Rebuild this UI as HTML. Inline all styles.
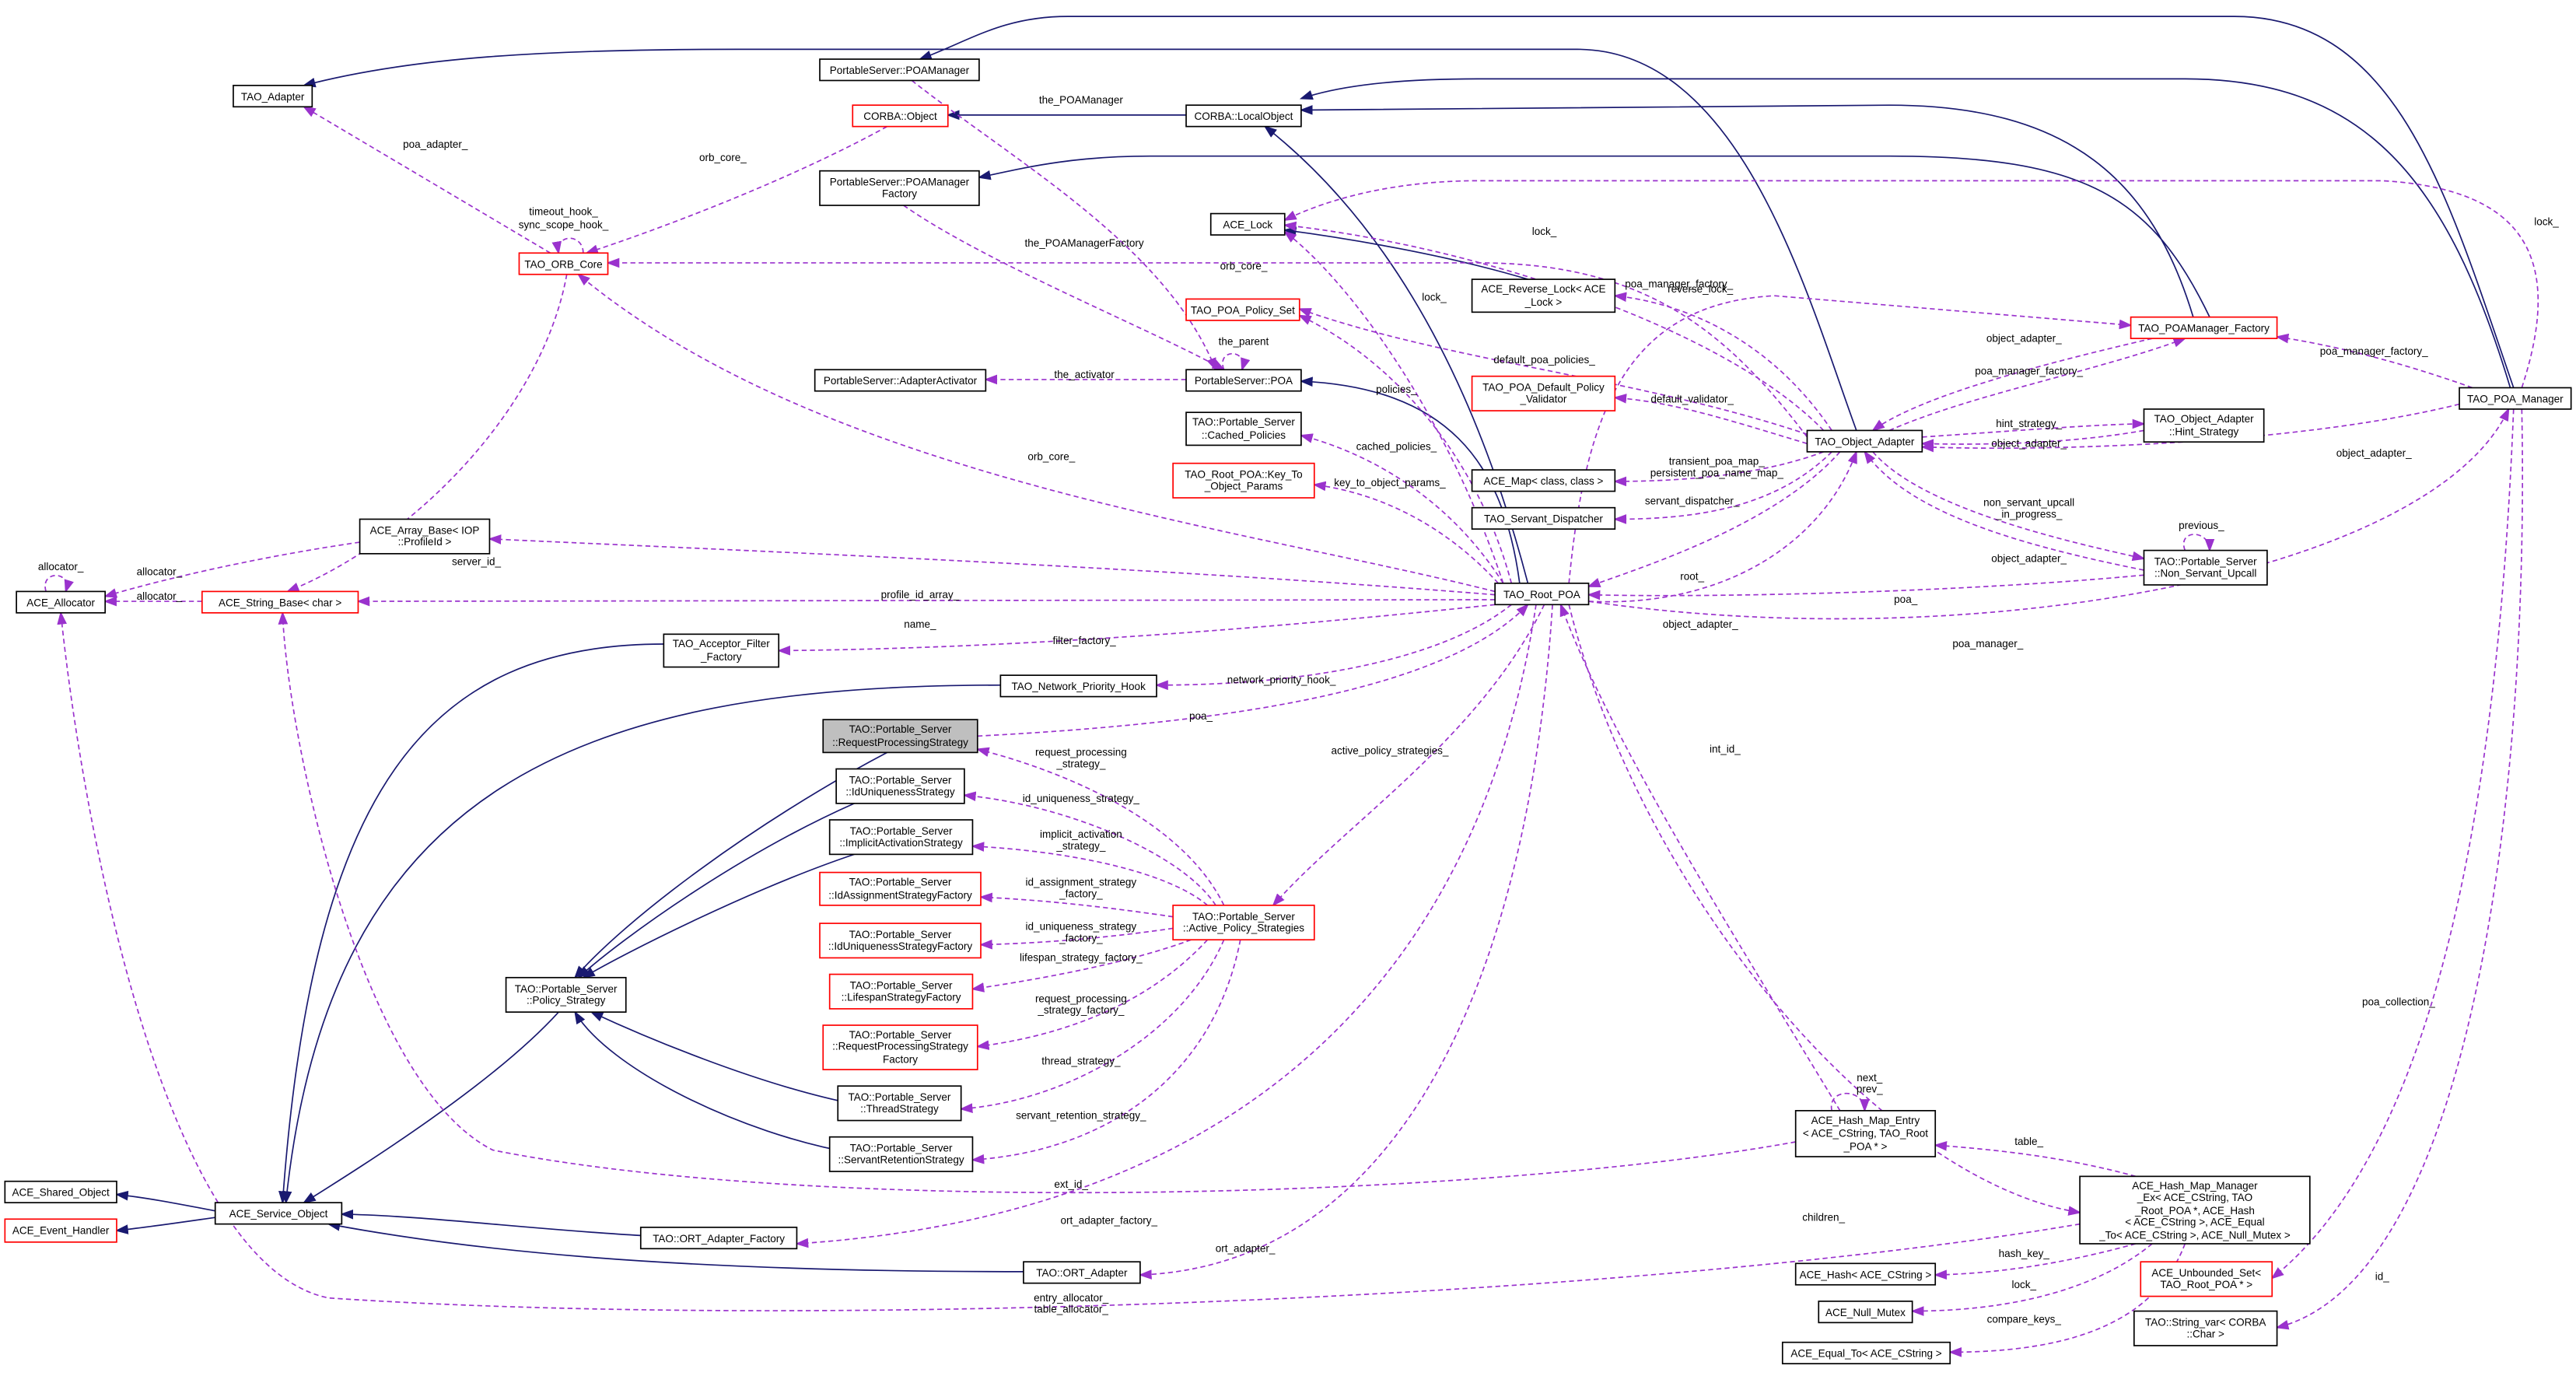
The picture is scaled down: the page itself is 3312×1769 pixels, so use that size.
<!DOCTYPE html>
<html><head><meta charset="utf-8"><style>
html,body{margin:0;padding:0;background:#fff;}
svg{display:block;}
text{font-family:"Liberation Sans Narrow","Liberation Sans",sans-serif;font-size:6.4px;fill:#000;text-anchor:middle;}
.b{fill:#fff;stroke:#000;stroke-width:0.8;}
.r{fill:#fff;stroke:#f00;stroke-width:0.8;}
.g{fill:#bfbfbf;stroke:#000;stroke-width:0.8;}
.s{fill:none;stroke:#191970;stroke-width:0.8;marker-end:url(#mn);}
.d{fill:none;stroke:#9a32cd;stroke-width:0.8;stroke-dasharray:3,2;marker-end:url(#mp);}
</style></head><body>
<svg width="3312" height="1769" viewBox="0 0 1568 837.5" preserveAspectRatio="none" xmlns="http://www.w3.org/2000/svg">
<defs>
<marker id="mn" markerWidth="8" markerHeight="6" refX="7" refY="3" orient="auto" markerUnits="userSpaceOnUse"><path d="M0,0 L8,3 L0,6 z" fill="#191970"/></marker>
<marker id="mp" markerWidth="8" markerHeight="6" refX="7" refY="3" orient="auto" markerUnits="userSpaceOnUse"><path d="M0,0 L8,3 L0,6 z" fill="#9a32cd"/></marker>
</defs>
<rect width="1568" height="837.5" fill="#fff"/>
<!-- solid edges -->
<path class="s" d="M1130,262 C1100,180 1060,30 960,30 L450,30 C330,30 250,35 185,52"/>
<path class="s" d="M1530,236 C1490,120 1460,10 1360,10 L650,10 C610,10 590,25 560,36"/>
<path class="s" d="M722,70 L577,70"/>
<path class="s" d="M1528,236 C1490,110 1440,48 1330,48 L900,48 C840,48 810,54 792,60"/>
<path class="s" d="M1335,193 C1310,110 1260,64 1150,64 L792,67"/>
<path class="s" d="M930,355 C900,240 850,140 770,77"/>
<path class="s" d="M1345,193 C1310,120 1270,95 1150,95 L700,95 C650,95 620,103 596,108"/>
<path class="s" d="M925,355 C915,280 880,236 792,232"/>
<path class="s" d="M930,170 C880,155 820,145 782,140"/>
<path class="s" d="M404,392 C260,392 190,480 172,732"/>
<path class="s" d="M609,417 C350,417 200,480 174,732"/>
<path class="s" d="M340,616 C300,660 220,710 185,732"/>
<path class="s" d="M390,752 C320,748 260,740 208,739"/>
<path class="s" d="M623,774 C400,774 280,760 200,745"/>
<path class="s" d="M131,737 C110,733 90,729 71,727"/>
<path class="s" d="M131,741 C110,744 90,747 71,749"/>
<path class="s" d="M540,458 C460,500 380,560 350,595"/>
<path class="s" d="M520,489 C450,520 380,570 352,595"/>
<path class="s" d="M520,520 C460,540 380,580 355,595"/>
<path class="s" d="M520,672 C460,660 390,630 360,616"/>
<path class="s" d="M520,702 C450,690 370,650 350,616"/>
<!-- dashed edges -->
<path class="d" d="M335,154 L185,65"/>
<path class="d" d="M540,77 C480,110 400,140 357,154"/>
<path class="d" d="M355,154 C355,142 338,142 340,154"/>
<path class="d" d="M1100,266 C1050,200 1000,160 900,160 L370,160"/>
<path class="d" d="M910,360 C750,320 500,290 352,167"/>
<path class="d" d="M345,167 C330,250 250,330 175,360"/>
<path class="d" d="M555,49 C620,100 710,150 740,225"/>
<path class="d" d="M550,125 C600,160 700,200 745,225"/>
<path class="d" d="M745,225 C740,212 760,212 756,225"/>
<path class="d" d="M722,231 L600,231"/>
<path class="d" d="M915,355 C880,250 820,170 782,141"/>
<path class="d" d="M1110,262 C1050,200 900,150 782,137"/>
<path class="d" d="M1535,236 C1560,160 1540,115 1450,110 L900,110 C840,110 800,125 782,134"/>
<path class="d" d="M1115,262 C1080,210 1030,185 983,180"/>
<path class="d" d="M955,355 C965,250 990,185 1080,180 L1297,198"/>
<path class="d" d="M1310,206 C1250,220 1170,240 1140,262"/>
<path class="d" d="M1150,262 C1200,240 1280,225 1330,206"/>
<path class="d" d="M1505,236 C1460,220 1420,210 1386,205"/>
<path class="d" d="M920,355 C900,280 850,220 791,192"/>
<path class="d" d="M1105,266 C1000,230 880,220 791,188"/>
<path class="d" d="M1100,270 C1050,255 1020,245 983,242"/>
<path class="d" d="M915,355 C880,300 830,275 792,265"/>
<path class="d" d="M912,355 C880,320 840,300 800,295"/>
<path class="d" d="M1110,275 C1070,290 1020,293 983,293"/>
<path class="d" d="M1115,275 C1080,310 1030,316 983,316"/>
<path class="d" d="M1170,266 C1230,262 1280,258 1305,258"/>
<path class="d" d="M1305,262 C1260,270 1210,271 1170,270"/>
<path class="d" d="M1497,246 C1400,270 1250,275 1170,272"/>
<path class="d" d="M1140,275 C1170,310 1260,330 1305,340"/>
<path class="d" d="M1305,347 C1220,330 1160,310 1135,275"/>
<path class="d" d="M1330,335 C1325,322 1345,322 1345,335"/>
<path class="d" d="M1120,275 C1080,320 1000,345 967,357"/>
<path class="d" d="M967,366 C1050,370 1110,330 1130,275"/>
<path class="d" d="M1305,350 C1200,360 1050,364 967,362"/>
<path class="d" d="M967,366 C1200,400 1480,350 1527,249"/>
<path class="d" d="M910,362 C700,345 450,335 298,328"/>
<path class="d" d="M910,365 L218,366"/>
<path class="d" d="M219,330 C150,340 90,355 64,363"/>
<path class="d" d="M123,366 L64,366"/>
<path class="d" d="M28,360 C24,347 44,347 40,360"/>
<path class="d" d="M910,368 C750,385 600,395 474,396"/>
<path class="d" d="M920,368 C880,400 800,417 704,417"/>
<path class="d" d="M595,448 C750,440 880,420 930,368"/>
<path class="d" d="M940,368 C900,450 820,500 775,551"/>
<path class="d" d="M745,551 C720,500 650,470 595,456"/>
<path class="d" d="M740,551 C720,520 650,490 587,484"/>
<path class="d" d="M735,551 C710,530 650,518 592,515"/>
<path class="d" d="M714,558 C680,553 640,548 597,546"/>
<path class="d" d="M714,565 C680,570 640,574 597,575"/>
<path class="d" d="M725,572 C690,585 640,595 592,602"/>
<path class="d" d="M735,572 C700,610 650,630 595,637"/>
<path class="d" d="M745,572 C720,630 650,670 585,675"/>
<path class="d" d="M755,572 C740,650 680,700 592,706"/>
<path class="d" d="M935,368 C900,600 750,740 485,757"/>
<path class="d" d="M945,368 C930,600 850,770 694,776"/>
<path class="d" d="M1120,676 C1050,560 980,450 950,368"/>
<path class="d" d="M1115,676 C1112,662 1135,662 1135,676"/>
<path class="d" d="M1093,695 C900,730 500,740 300,700 C220,660 175,450 172,373"/>
<path class="d" d="M955,368 C1000,550 1150,720 1266,738"/>
<path class="d" d="M1300,716 C1260,705 1220,700 1178,697"/>
<path class="d" d="M1266,745 C1000,790 500,810 200,790 C100,770 50,500 37,373"/>
<path class="d" d="M1300,757 C1260,768 1220,775 1178,776"/>
<path class="d" d="M1310,757 C1270,790 1210,798 1164,798"/>
<path class="d" d="M1330,757 C1310,810 1250,823 1187,823"/>
<path class="d" d="M1530,249 C1520,500 1480,700 1383,778"/>
<path class="d" d="M1535,249 C1540,500 1500,780 1386,808"/>
<!-- edge labels -->
<text x="265" y="90">poa_adapter_</text>
<text x="440" y="98">orb_core_</text>
<text x="343" y="131">timeout_hook_</text><text x="343" y="139">sync_scope_hook_</text>
<text x="757" y="164">orb_core_</text>
<text x="640" y="280">orb_core_</text>
<text x="290" y="344">server_id_</text>
<text x="658" y="63">the_POAManager</text>
<text x="660" y="150">the_POAManagerFactory</text>
<text x="757" y="210">the_parent</text>
<text x="660" y="230">the_activator</text>
<text x="873" y="183">lock_</text>
<text x="940" y="143">lock_</text>
<text x="1550" y="137">lock_</text>
<text x="1035" y="178">reverse_lock_</text>
<text x="1022" y="175">poa_manager_factory_</text>
<text x="1232" y="208">object_adapter_</text>
<text x="1235" y="228">poa_manager_factory_</text>
<text x="1445" y="216">poa_manager_factory_</text>
<text x="850" y="239">policies_</text>
<text x="940" y="221">default_poa_policies_</text>
<text x="1030" y="245">default_validator_</text>
<text x="850" y="274">cached_policies_</text>
<text x="846" y="296">key_to_object_params_</text>
<text x="1045" y="283">transient_poa_map_</text><text x="1045" y="290">persistent_poa_name_map_</text>
<text x="1030" y="307">servant_dispatcher_</text>
<text x="1235" y="260">hint_strategy_</text>
<text x="1235" y="272">object_adapter_</text>
<text x="1445" y="278">object_adapter_</text>
<text x="1235" y="308">non_servant_upcall</text><text x="1235" y="315">_in_progress_</text>
<text x="1235" y="342">object_adapter_</text>
<text x="1340" y="322">previous_</text>
<text x="1030" y="353">root_</text>
<text x="1035" y="382">object_adapter_</text>
<text x="1160" y="367">poa_</text>
<text x="1210" y="394">poa_manager_</text>
<text x="560" y="364">profile_id_array_</text>
<text x="560" y="382">name_</text>
<text x="97" y="350">allocator_</text>
<text x="97" y="365">allocator_</text>
<text x="37" y="347">allocator_</text>
<text x="660" y="392">filter_factory_</text>
<text x="780" y="416">network_priority_hook_</text>
<text x="731" y="438">poa_</text>
<text x="846" y="459">active_policy_strategies_</text>
<text x="658" y="460">request_processing</text><text x="658" y="467">_strategy_</text>
<text x="658" y="488">id_uniqueness_strategy_</text>
<text x="658" y="510">implicit_activation</text><text x="658" y="517">_strategy_</text>
<text x="658" y="539">id_assignment_strategy</text><text x="658" y="546">_factory_</text>
<text x="658" y="566">id_uniqueness_strategy</text><text x="658" y="573">_factory_</text>
<text x="658" y="585">lifespan_strategy_factory_</text>
<text x="658" y="610">request_processing</text><text x="658" y="617">_strategy_factory_</text>
<text x="658" y="648">thread_strategy_</text>
<text x="658" y="681">servant_retention_strategy_</text>
<text x="675" y="745">ort_adapter_factory_</text>
<text x="758" y="762">ort_adapter_</text>
<text x="1050" y="458">int_id_</text>
<text x="1138" y="658">next_</text><text x="1138" y="665">prev_</text>
<text x="652" y="723">ext_id_</text>
<text x="1110" y="743">children_</text>
<text x="1235" y="697">table_</text>
<text x="652" y="792">entry_allocator_</text><text x="652" y="799">table_allocator_</text>
<text x="1232" y="765">hash_key_</text>
<text x="1232" y="784">lock_</text>
<text x="1232" y="805">compare_keys_</text>
<text x="1460" y="612">poa_collection_</text>
<text x="1450" y="779">id_</text>
<!-- nodes -->
<rect class="b" x="142" y="52" width="48" height="13"/><text x="166" y="61">TAO_Adapter</text>
<rect class="b" x="499" y="36" width="97" height="13"/><text x="547.5" y="45">PortableServer::POAManager</text>
<rect class="r" x="519" y="64" width="58" height="13"/><text x="548" y="73">CORBA::Object</text>
<rect class="b" x="722" y="64" width="70" height="13"/><text x="757" y="73">CORBA::LocalObject</text>
<rect class="b" x="499" y="104" width="97" height="21"/><text x="547.5" y="113">PortableServer::POAManager</text><text x="547.5" y="120">Factory</text>
<rect class="b" x="737" y="130" width="45" height="13"/><text x="759.5" y="139">ACE_Lock</text>
<rect class="r" x="316" y="154" width="54" height="13"/><text x="343" y="163">TAO_ORB_Core</text>
<rect class="r" x="722" y="182" width="69" height="13"/><text x="756.5" y="191">TAO_POA_Policy_Set</text>
<rect class="b" x="896" y="170" width="87" height="20"/><text x="939.5" y="178">ACE_Reverse_Lock&lt; ACE</text><text x="939.5" y="186">_Lock &gt;</text>
<rect class="r" x="1297" y="193" width="89" height="13"/><text x="1341.5" y="202">TAO_POAManager_Factory</text>
<rect class="b" x="496" y="225" width="104" height="13"/><text x="548" y="234">PortableServer::AdapterActivator</text>
<rect class="b" x="722" y="225" width="70" height="13"/><text x="757" y="234">PortableServer::POA</text>
<rect class="r" x="896" y="229" width="87" height="21"/><text x="939.5" y="238">TAO_POA_Default_Policy</text><text x="939.5" y="245">_Validator</text>
<rect class="b" x="1497" y="236" width="68" height="13"/><text x="1531" y="245">TAO_POA_Manager</text>
<rect class="b" x="722" y="251" width="70" height="20"/><text x="757" y="259">TAO::Portable_Server</text><text x="757" y="267">::Cached_Policies</text>
<rect class="b" x="1100" y="262" width="70" height="13"/><text x="1135" y="271">TAO_Object_Adapter</text>
<rect class="b" x="1305" y="249" width="73" height="20"/><text x="1341.5" y="257">TAO_Object_Adapter</text><text x="1341.5" y="265">::Hint_Strategy</text>
<rect class="r" x="714" y="282" width="86" height="21"/><text x="757" y="291">TAO_Root_POA::Key_To</text><text x="757" y="298">_Object_Params</text>
<rect class="b" x="896" y="286" width="87" height="13"/><text x="939.5" y="295">ACE_Map&lt; class, class &gt;</text>
<rect class="b" x="896" y="309" width="87" height="13"/><text x="939.5" y="318">TAO_Servant_Dispatcher</text>
<rect class="b" x="219" y="316" width="79" height="21"/><text x="258.5" y="325">ACE_Array_Base&lt; IOP</text><text x="258.5" y="332">::ProfileId &gt;</text>
<rect class="b" x="1305" y="335" width="75" height="21"/><text x="1342.5" y="344">TAO::Portable_Server</text><text x="1342.5" y="351">::Non_Servant_Upcall</text>
<rect class="b" x="10" y="360" width="54" height="13"/><text x="37" y="369">ACE_Allocator</text>
<rect class="r" x="123" y="360" width="95" height="13"/><text x="170.5" y="369">ACE_String_Base&lt; char &gt;</text>
<rect class="b" x="910" y="355" width="57" height="13"/><text x="938.5" y="364">TAO_Root_POA</text>
<rect class="b" x="404" y="386" width="70" height="20"/><text x="439" y="394">TAO_Acceptor_Filter</text><text x="439" y="402">_Factory</text>
<rect class="b" x="609" y="411" width="95" height="13"/><text x="656.5" y="420">TAO_Network_Priority_Hook</text>
<rect class="g" x="501" y="438" width="94" height="20"/><text x="548" y="446">TAO::Portable_Server</text><text x="548" y="454">::RequestProcessingStrategy</text>
<rect class="b" x="509" y="468" width="78" height="21"/><text x="548" y="477">TAO::Portable_Server</text><text x="548" y="484">::IdUniquenessStrategy</text>
<rect class="b" x="505" y="499" width="87" height="21"/><text x="548.5" y="508">TAO::Portable_Server</text><text x="548.5" y="515">::ImplicitActivationStrategy</text>
<rect class="r" x="499" y="531" width="98" height="20"/><text x="548" y="539">TAO::Portable_Server</text><text x="548" y="547">::IdAssignmentStrategyFactory</text>
<rect class="r" x="714" y="551" width="86" height="21"/><text x="757" y="560">TAO::Portable_Server</text><text x="757" y="567">::Active_Policy_Strategies</text>
<rect class="r" x="499" y="562" width="98" height="21"/><text x="548" y="571">TAO::Portable_Server</text><text x="548" y="578">::IdUniquenessStrategyFactory</text>
<rect class="b" x="308" y="595" width="73" height="21"/><text x="344.5" y="604">TAO::Portable_Server</text><text x="344.5" y="611">::Policy_Strategy</text>
<rect class="r" x="505" y="593" width="87" height="21"/><text x="548.5" y="602">TAO::Portable_Server</text><text x="548.5" y="609">::LifespanStrategyFactory</text>
<rect class="r" x="501" y="624" width="94" height="27"/><text x="548" y="632">TAO::Portable_Server</text><text x="548" y="639">::RequestProcessingStrategy</text><text x="548" y="647">Factory</text>
<rect class="b" x="510" y="661" width="75" height="21"/><text x="547.5" y="670">TAO::Portable_Server</text><text x="547.5" y="677">::ThreadStrategy</text>
<rect class="b" x="505" y="692" width="87" height="21"/><text x="548.5" y="701">TAO::Portable_Server</text><text x="548.5" y="708">::ServantRetentionStrategy</text>
<rect class="b" x="1093" y="676" width="85" height="28"/><text x="1135.5" y="684">ACE_Hash_Map_Entry</text><text x="1135.5" y="692">&lt; ACE_CString, TAO_Root</text><text x="1135.5" y="700">_POA * &gt;</text>
<rect class="b" x="1266" y="716" width="140" height="41"/><text x="1336" y="724">ACE_Hash_Map_Manager</text><text x="1336" y="731">_Ex&lt; ACE_CString, TAO</text><text x="1336" y="739">_Root_POA *, ACE_Hash</text><text x="1336" y="746">&lt; ACE_CString &gt;, ACE_Equal</text><text x="1336" y="754">_To&lt; ACE_CString &gt;, ACE_Null_Mutex &gt;</text>
<rect class="b" x="3" y="719" width="68" height="13"/><text x="37" y="728">ACE_Shared_Object</text>
<rect class="b" x="131" y="732" width="77" height="13"/><text x="169.5" y="741">ACE_Service_Object</text>
<rect class="r" x="3" y="742" width="68" height="14"/><text x="37" y="751">ACE_Event_Handler</text>
<rect class="b" x="390" y="747" width="95" height="13"/><text x="437.5" y="756">TAO::ORT_Adapter_Factory</text>
<rect class="b" x="1093" y="769" width="85" height="13"/><text x="1135.5" y="778">ACE_Hash&lt; ACE_CString &gt;</text>
<rect class="b" x="623" y="768" width="71" height="13"/><text x="658.5" y="777">TAO::ORT_Adapter</text>
<rect class="r" x="1303" y="768" width="80" height="21"/><text x="1343" y="777">ACE_Unbounded_Set&lt;</text><text x="1343" y="784">TAO_Root_POA * &gt;</text>
<rect class="b" x="1107" y="792" width="57" height="13"/><text x="1135.5" y="801">ACE_Null_Mutex</text>
<rect class="b" x="1299" y="798" width="87" height="21"/><text x="1342.5" y="807">TAO::String_var&lt; CORBA</text><text x="1342.5" y="814">::Char &gt;</text>
<rect class="b" x="1085" y="817" width="102" height="13"/><text x="1136" y="826">ACE_Equal_To&lt; ACE_CString &gt;</text>
</svg>
</body></html>
